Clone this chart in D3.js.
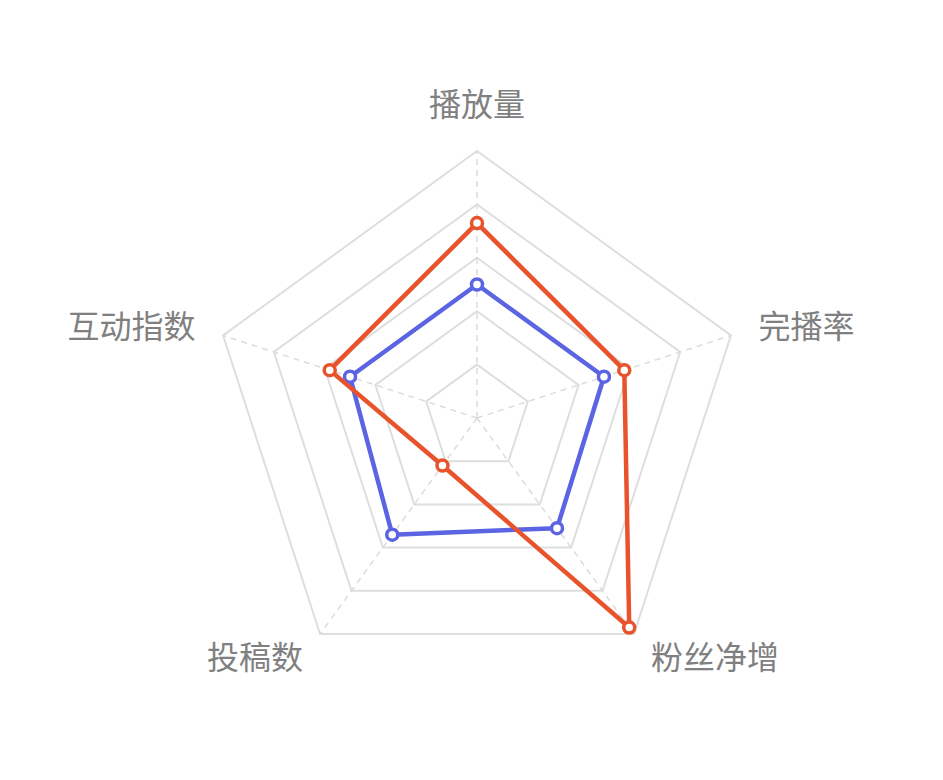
<!DOCTYPE html>
<html lang="zh">
<head>
<meta charset="UTF-8">
<title>Radar</title>
<script src="https://d3js.org/d3.v7.min.js"></script>
<style>
  html, body { margin: 0; padding: 0; background: #fff; }
  svg { display: block; }
</style>
</head>
<body>
<svg id="chart" width="943" height="780"></svg>
<script>
    // axis names, clockwise from the top
    const indicators = ["播放量", "完播率", "粉丝净增", "投稿数", "互动指数"];
    const maxValue = 100;
    // two series, values (0-100)
    const seriesOrange = [73, 58, 97, 22, 58];
    const seriesBlue = [50, 50, 51, 54, 50];

    const width = 943, height = 780;
    const cx = 477, cy = 418, radius = 267;
    const splitNumber = 5;
    const nameGap = 29;

    const svg = d3.select("#chart");

    const rScale = d3.scaleLinear().domain([0, maxValue]).range([0, radius]);
    const angle = i => (Math.PI * 2 / indicators.length) * i;   // 0 = straight up
    const point = (i, r) => [cx + r * Math.sin(angle(i)), cy - r * Math.cos(angle(i))];

    const lineClosed = d3.line().curve(d3.curveLinearClosed);

    // rings
    const ringValues = d3.range(1, splitNumber + 1).map(k => maxValue * k / splitNumber);
    svg.append("g").selectAll("path")
        .data(ringValues)
        .join("path")
        .attr("d", v => lineClosed(indicators.map((_, i) => point(i, rScale(v)))))
        .attr("fill", "none")
        .attr("stroke", "#dedede")
        .attr("stroke-width", 2);

    // spokes (dashed)
    svg.append("g").selectAll("line")
        .data(indicators)
        .join("line")
        .attr("x1", cx).attr("y1", cy)
        .attr("x2", (d, i) => point(i, radius)[0])
        .attr("y2", (d, i) => point(i, radius)[1])
        .attr("stroke", "#dcdcdc")
        .attr("stroke-width", 1.5)
        .attr("stroke-dasharray", "6,5");

    // axis names
    svg.append("g").selectAll("text")
        .data(indicators)
        .join("text")
        .attr("x", (d, i) => point(i, radius + nameGap)[0])
        .attr("y", (d, i) => point(i, radius + nameGap)[1])
        .attr("text-anchor", (d, i) => {
            const s = Math.sin(angle(i));
            return Math.abs(s) < 0.01 ? "middle" : (s > 0 ? "start" : "end");
        })
        .attr("dy", (d, i) => Math.abs(Math.sin(angle(i))) < 0.01 ? "-0.2em" : "0.35em")
        .attr("font-family", "'Noto Sans CJK SC', 'Noto Sans', sans-serif")
        .attr("font-size", 32)
        .attr("fill", "#808080")
        .text(d => d);

    // series
    const series = [
        {values: seriesBlue, color: "#5b64e2"},
        {values: seriesOrange, color: "#e8532c"}
    ];

    series.forEach(s => {
        const pts = s.values.map((v, i) => point(i, rScale(v)));
        const g = svg.append("g");
        g.append("path")
            .attr("d", lineClosed(pts))
            .attr("fill", "none")
            .attr("stroke", s.color)
            .attr("stroke-width", 4.5)
            .attr("stroke-linejoin", "round");
        g.selectAll("circle")
            .data(pts)
            .join("circle")
            .attr("cx", d => d[0])
            .attr("cy", d => d[1])
            .attr("r", 5.5)
            .attr("fill", "#fff")
            .attr("stroke", s.color)
            .attr("stroke-width", 3.5);
    });
</script>
</body>
</html>
